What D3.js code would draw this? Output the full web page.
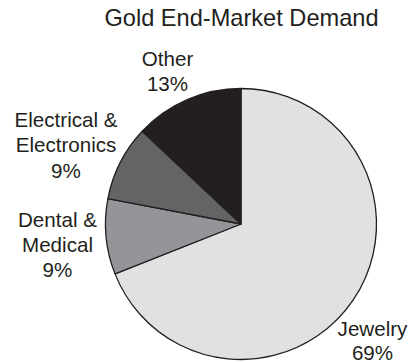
<!DOCTYPE html>
<html>
<head>
<meta charset="utf-8">
<script src="https://cdn.jsdelivr.net/npm/d3@7"></script>
<style>
  html, body { margin: 0; padding: 0; background: #fff; }
  svg { display: block; }
  text { font-family: "Liberation Sans", Arial, Helvetica, sans-serif; fill: #231f20; }
</style>
</head>
<body>
<svg id="chart" width="409" height="362"></svg>
<script>
// Gold end-market demand shares (percent)
const categories = ["Jewelry", "Dental & Medical", "Electrical & Electronics", "Other"];
const shares = [69, 9, 9, 13];
// Label lines for each slice (the last line is the percent)
const labelLines = [
  ["Jewelry"],
  ["Dental &", "Medical"],
  ["Electrical &", "Electronics"],
  ["Other"]
];
const title = "Gold End-Market Demand";

// Layout
const W = 409, H = 362;
const cx = 241, cy = 224, radius = 135.5;
const fills = ["#e0e1e3", "#939598", "#636466", "#231f20"];
// Label anchor (centre x, first baseline y, line step) for each slice
const labelAnchors = [
  { x: 372.5, y: 336, step: 24 },
  { x: 57.5, y: 226.5, step: 25.2 },
  { x: 66, y: 126.5, step: 25.6 },
  { x: 167.5, y: 65.5, step: 25.2 }
];

const svg = d3.select("#chart");

svg.append("text")
  .attr("x", 241.5)
  .attr("y", 26)
  .attr("text-anchor", "middle")
  .style("font-size", "23.6px")
  .text(title);

const pie = d3.pie().sort(null).value(d => d.value).startAngle(0).endAngle(2 * Math.PI);
const arc = d3.arc().innerRadius(0).outerRadius(radius);

const data = categories.map((c, i) => ({ name: c, value: shares[i], i }));

const g = svg.append("g").attr("transform", `translate(${cx},${cy})`);
g.selectAll("path")
  .data(pie(data))
  .join("path")
  .attr("d", arc)
  .attr("fill", d => fills[d.data.i])
  .attr("stroke", "#231f20")
  .attr("stroke-width", 1.3)
  .attr("stroke-linejoin", "round");

const labels = svg.selectAll("text.lbl")
  .data(data)
  .join("text")
  .attr("class", "lbl")
  .attr("text-anchor", "middle")
  .style("font-size", "20.6px")
  .attr("x", d => labelAnchors[d.i].x)
  .attr("y", d => labelAnchors[d.i].y);

labels.each(function(d) {
  const t = d3.select(this);
  const a = labelAnchors[d.i];
  const lines = labelLines[d.i].concat([d.value + "%"]);
  lines.forEach((ln, k) => {
    t.append("tspan")
      .attr("x", a.x)
      .attr("dy", k === 0 ? 0 : a.step)
      .text(ln);
  });
});
</script>
</body>
</html>
